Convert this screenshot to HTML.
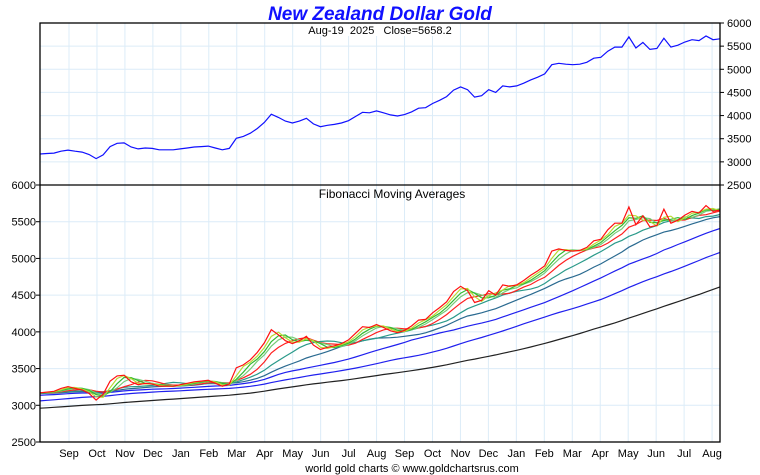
<!DOCTYPE html>
<html><head><meta charset="utf-8"><style>
body{margin:0;background:#fff;}
svg{display:block;font-family:"Liberation Sans",sans-serif;}
</style></head><body>
<svg id="c" width="760" height="475" viewBox="0 0 760 475">
<text x="380" y="20" text-anchor="middle" font-size="19" font-weight="bold" font-style="italic" fill="#1010ff">New Zealand Dollar Gold</text>
<g id="grid"></g>
<g id="lines"></g>
<rect x="305" y="24" width="150" height="12" fill="#fff"/>
<text x="380" y="34" text-anchor="middle" font-size="11" xml:space="preserve">Aug-19  2025   Close=5658.2</text>
<rect x="40" y="23" width="680" height="419" fill="none" stroke="#000" stroke-width="1.3"/>
<line x1="40" y1="185" x2="720" y2="185" stroke="#000" stroke-width="1.3"/>
<text x="392" y="198" text-anchor="middle" font-size="12">Fibonacci Moving Averages</text>
<g id="axes"></g>
<text x="412" y="472" text-anchor="middle" font-size="11">world gold charts © www.goldchartsrus.com</text>
</svg>
<script>
const months=["Sep","Oct","Nov","Dec","Jan","Feb","Mar","Apr","May","Jun","Jul","Aug","Sep","Oct","Nov","Dec","Jan","Feb","Mar","Apr","May","Jun","Jul","Aug"];
const topTicks=[2500,3000,3500,4000,4500,5000,5500,6000];
const botTicks=[2500,3000,3500,4000,4500,5000,5500,6000];
const history=[2700,2720,2740,2710,2730,2760,2780,2750,2770,2790,2800,2780,2760,2770,2790,2810,2800,2780,2790,2810,2820,2800,2790,2810,2830,2840,2820,2810,2830,2850,2860,2870,2850,2840,2860,2880,2900,2890,2870,2880,2910,2920,2910,2900,2920,2960,2980,3000,3020,3040,3020,3040,3070,3100,3090,3080,3100,3120,3140,3130,3110,3120,3140,3160,3150,3140,3160,3170,3180,3160,3150,3170,3180,3170,3160,3170];
const price=[3170,3180,3190,3230,3255,3230,3210,3160,3070,3150,3330,3400,3410,3320,3280,3300,3290,3260,3260,3260,3280,3300,3320,3330,3340,3300,3260,3290,3510,3550,3620,3720,3850,4030,3960,3880,3840,3880,3940,3820,3760,3790,3810,3840,3890,3980,4070,4060,4100,4060,4015,3990,4020,4080,4160,4170,4260,4330,4410,4550,4620,4560,4400,4430,4560,4500,4640,4620,4640,4700,4770,4830,4900,5100,5130,5110,5100,5110,5150,5240,5260,5390,5480,5480,5700,5460,5580,5430,5450,5670,5480,5520,5590,5640,5620,5720,5640,5658.2];
const periods=[2,3,4,6,10,16,26,42,70];
const maColors=["#b8d830","#33bb33","#77cc77","#ff2020","#2a9a8a","#2a6a90","#2020ee","#2020ee","#222222"];

const NS="http://www.w3.org/2000/svg";
const X0=40,X1=720;
const yTop=v=>23+(6000-v)/3500*162;
const yBot=v=>185+(6000-v)/3500*257;
const xIdx=i=>X0+i*(X1-X0)/(price.length-1);
const xMonth=i=>69+i*27.96;
function mk(tag,attrs,parent){const e=document.createElementNS(NS,tag);for(const k in attrs)e.setAttribute(k,attrs[k]);parent.appendChild(e);return e;}
const grid=document.getElementById('grid'),lines=document.getElementById('lines'),axes=document.getElementById('axes');
months.forEach((m,i)=>{
  const l=mk('line',{x1:xMonth(i),x2:xMonth(i),y1:23,y2:442,stroke:"#dcecf8","stroke-width":1},grid);
  
  
  const t=mk('text',{x:xMonth(i),y:457,"text-anchor":"middle","font-size":11},axes);
  t.textContent=m;
  
  
});
topTicks.forEach(v=>{
  const y=yTop(v);
  if(v>2500&&v<6000){const l=mk('line',{x1:X0,x2:X1,y1:y,y2:y,stroke:"#dcecf8"},grid);
  
  }
  mk('line',{x1:X1,x2:X1+4,y1:y,y2:y,stroke:"#000"},axes);
  const t=mk('text',{x:727,y:y+4,"font-size":11},axes);
  t.textContent=v;
  
  
});
botTicks.forEach(v=>{
  const y=yBot(v);
  if(v>2500&&v<6000){const l=mk('line',{x1:X0,x2:X1,y1:y,y2:y,stroke:"#dcecf8"},grid);
  
  }
  mk('line',{x1:X0-4,x2:X0,y1:y,y2:y,stroke:"#000"},axes);
  const t=mk('text',{x:36,y:y+4,"font-size":11,"text-anchor":"end"},axes);
  t.textContent=v;
  
  
});
function path(vals,yf){return vals.map((v,i)=>(i?'L':'M')+xIdx(i).toFixed(1)+','+yf(v).toFixed(1)).join('');}
const all=history.concat(price);
function ma(p){return price.map((_,i)=>{const end=history.length+i;let s=0;for(let k=end-p+1;k<=end;k++)s+=all[k];return s/p;});}
for(let j=periods.length-1;j>=0;j--){
  const p=mk('path',{d:path(ma(periods[j]),yBot),fill:"none",stroke:maColors[j],"stroke-width":1.2},lines);
  
  
}
const pb=mk('path',{d:path(price,yBot),fill:"none",stroke:"#ff1010","stroke-width":1.2},lines);


const pt=mk('path',{d:path(price,yTop),fill:"none",stroke:"#1010ff","stroke-width":1.2},lines);


</script>
</body></html>
